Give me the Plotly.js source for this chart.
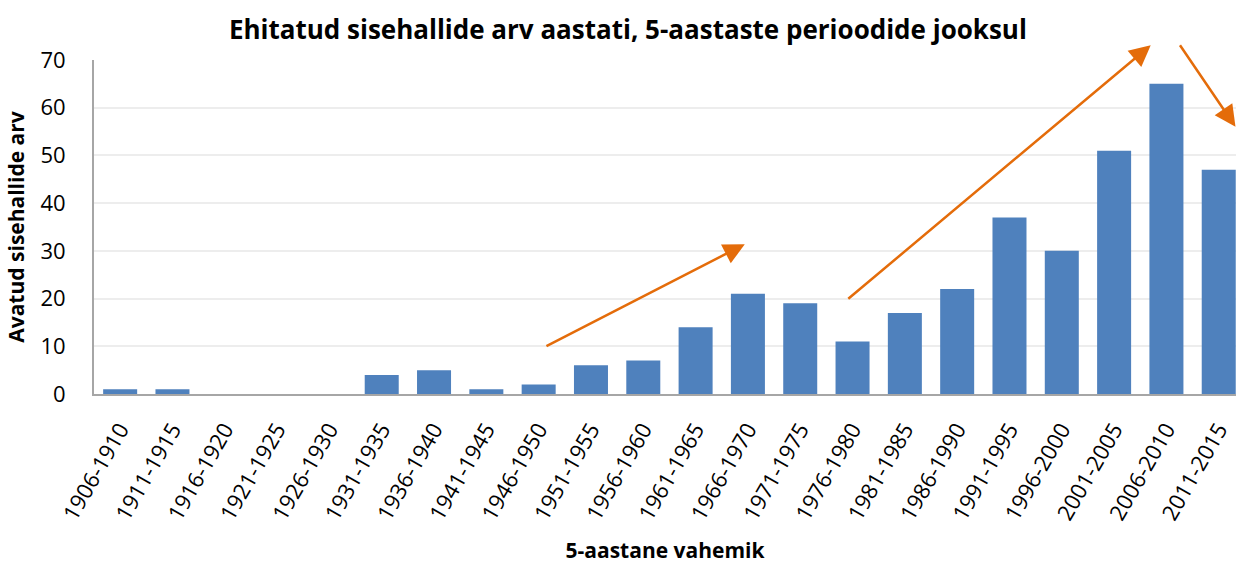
<!DOCTYPE html>
<html>
<head>
<meta charset="utf-8">
<script src="https://cdn.plot.ly/plotly-3.0.1.min.js"></script>
<style>html,body{margin:0;padding:0;background:#fff;}#chart{width:1236px;height:565px;}</style>
</head>
<body>
<div id="chart"></div>
<script>
const categories = ["1906-1910","1911-1915","1916-1920","1921-1925","1926-1930","1931-1935","1936-1940","1941-1945","1946-1950","1951-1955","1956-1960","1961-1965","1966-1970","1971-1975","1976-1980","1981-1985","1986-1990","1991-1995","1996-2000","2001-2005","2006-2010","2011-2015"];
const values = [1,1,0,0,0,4,5,1,2,6,7,14,21,19,11,17,22,37,30,51,65,47];
const yTicks = [0,10,20,30,40,50,60,70];
// trend arrows: [tailX, tailY, headX, headY] in category index / data units
const arrows = [
  [8.12, 9.85, 11.94, 31.4],
  [13.89, 19.7, 19.70, 73.1],
  [20.24, 73.4, 21.32, 56.0]
];

const font = "'Open Sans', sans-serif";
const trace = {
  type: 'bar',
  x: categories,
  y: values,
  marker: {color: '#4F81BD', line: {width: 0}},
  hoverinfo: 'x+y'
};

const annotations = arrows.map(a => ({
  x: a[2], y: a[3], ax: a[0], ay: a[1],
  xref: 'x', yref: 'y', axref: 'x', ayref: 'y',
  text: '', showarrow: true, arrowhead: 2, arrowsize: 1.7, arrowwidth: 2.5,
  arrowcolor: '#E46C0A', standoff: 0, startstandoff: 0
}));

const layout = {
  width: 1236, height: 565,
  margin: {l: 94, r: 0, t: 60, b: 171},
  paper_bgcolor: '#fff', plot_bgcolor: '#fff',
  title: {text: '<b>Ehitatud sisehallide arv aastati, 5-aastaste perioodide jooksul</b>',
          font: {family: font, size: 26, color: '#000'}, x: 0.508, xanchor: 'center', y: 0.947, yanchor: 'middle'},
  bargap: 0.35,
  showlegend: false,
  xaxis: {
    type: 'category',
    range: [-0.5, 21.33],
    tickangle: -60,
    tickfont: {family: font, size: 22, color: '#000'},
    showline: true, linecolor: '#A6A6A6', linewidth: 2,
    showgrid: false, ticks: '', ticklabelstandoff: 12,
    title: {text: '<b>5-aastane vahemik</b>', font: {family: font, size: 21, color: '#000'}, standoff: 19}
  },
  yaxis: {
    range: [0, 70],
    tickvals: yTicks,
    tickfont: {family: font, size: 22, color: '#000'},
    showline: true, linecolor: '#A6A6A6', linewidth: 2,
    gridcolor: '#EDEDED', gridwidth: 1.5,
    zeroline: false, ticks: '', ticklabelstandoff: 22,
    title: {text: '<b>Avatud sisehallide arv</b>', font: {family: font, size: 21, color: '#000'}, standoff: 10}
  },
  annotations: annotations
};

Plotly.newPlot('chart', [trace], layout, {displayModeBar: false, responsive: false});
</script>
</body>
</html>
